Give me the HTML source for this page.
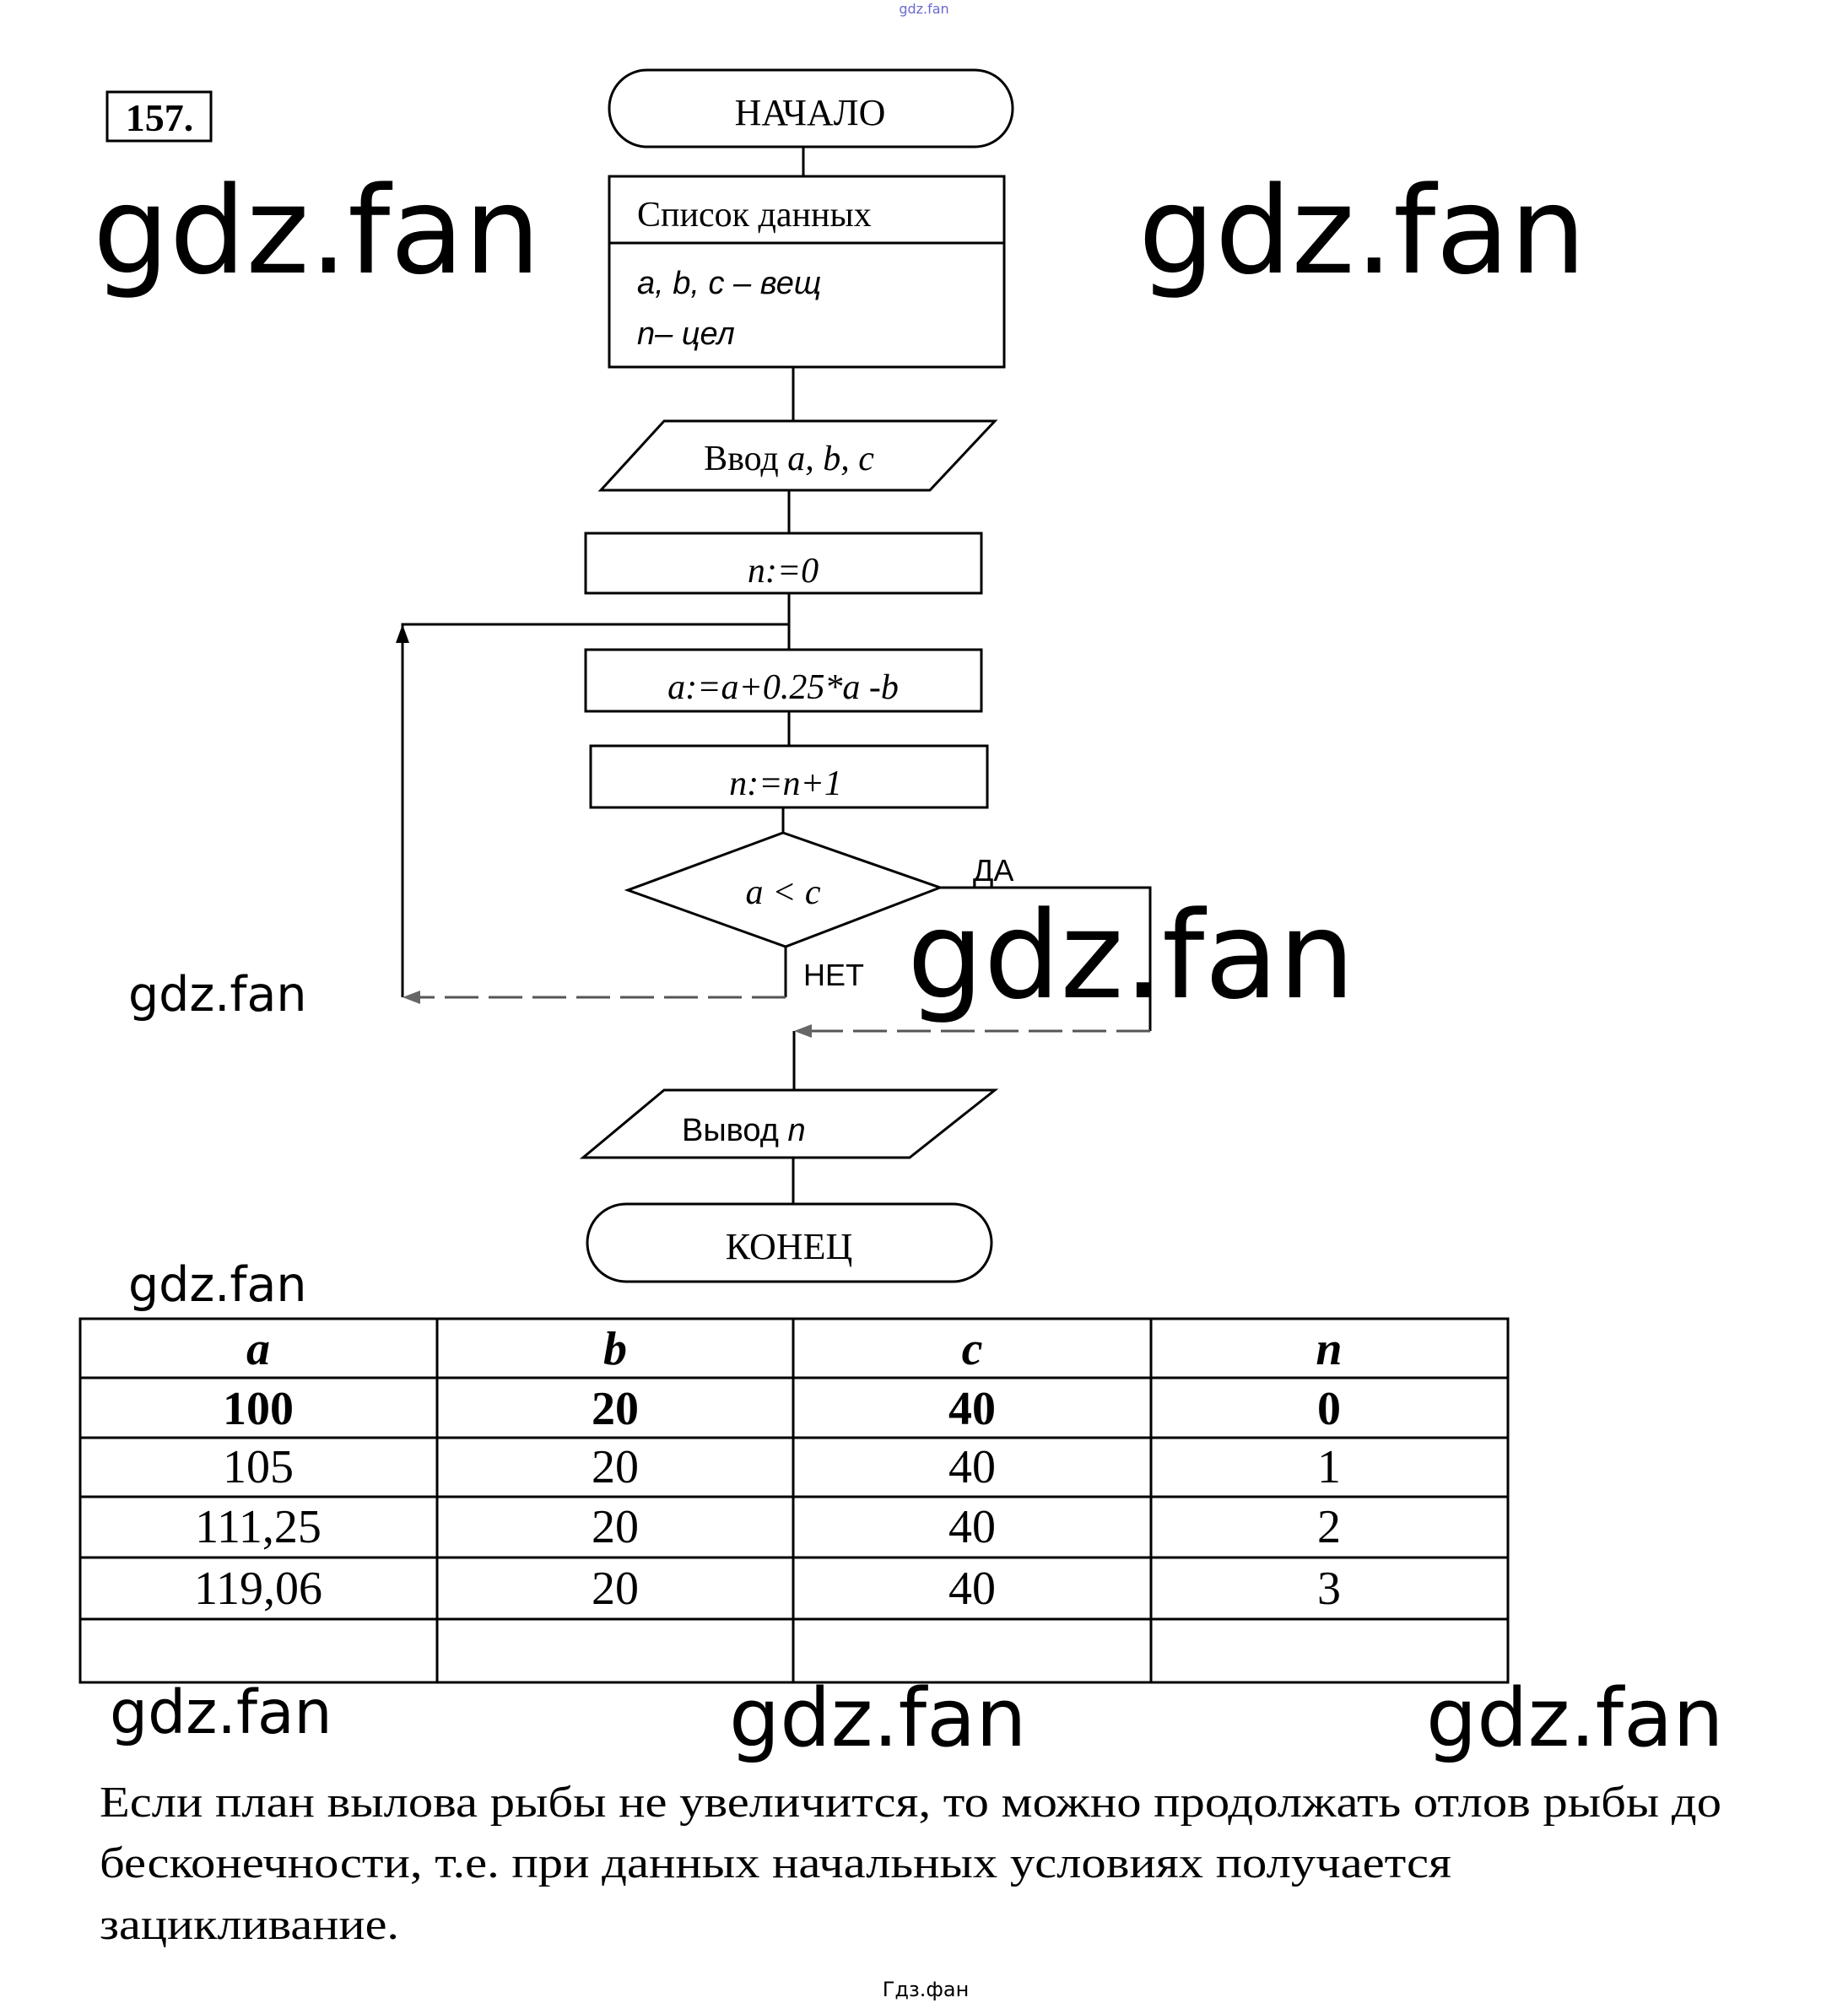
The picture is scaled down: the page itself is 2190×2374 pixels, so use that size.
<!DOCTYPE html>
<html><head><meta charset="utf-8"><style>
html,body{margin:0;padding:0;background:#fff}
svg{display:block}
.s{font-family:"Liberation Serif",serif}
.w{font-family:"DejaVu Sans","Liberation Sans",sans-serif}
</style></head><body>
<svg width="2190" height="2374" viewBox="0 0 2190 2374" xmlns="http://www.w3.org/2000/svg">
<g fill="none" stroke="#000" stroke-width="3">
<rect x="127" y="109" width="123" height="58"/>
<rect x="722" y="83" width="478" height="91" rx="45"/>
<line x1="952" y1="174" x2="952" y2="209"/>
<rect x="722" y="209" width="468" height="226"/>
<line x1="722" y1="288" x2="1190" y2="288"/>
<line x1="940" y1="435" x2="940" y2="499"/>
<polygon points="712,581 787,499 1179,499 1102,581"/>
<line x1="935" y1="581" x2="935" y2="632"/>
<rect x="694" y="632" width="469" height="71"/>
<line x1="935" y1="703" x2="935" y2="770"/>
<polyline points="935,740 477,740 477,1182"/>
<rect x="694" y="770" width="469" height="73"/>
<line x1="935" y1="843" x2="935" y2="884"/>
<rect x="700" y="884" width="470" height="73"/>
<line x1="928" y1="957" x2="928" y2="987"/>
<polygon points="928,987 1114,1052 931,1122 744,1055"/>
<polyline points="1114,1052 1363,1052 1363,1222"/>
<line x1="931" y1="1122" x2="931" y2="1182"/>
<line x1="941" y1="1222" x2="941" y2="1292"/>
<polygon points="691,1372 787,1292 1179,1292 1078,1372"/>
<line x1="940" y1="1372" x2="940" y2="1427"/>
<rect x="696" y="1427" width="479" height="92" rx="46"/>
<rect x="95" y="1563" width="1692" height="431"/>
<line x1="518" y1="1563" x2="518" y2="1994"/>
<line x1="940" y1="1563" x2="940" y2="1994"/>
<line x1="1364" y1="1563" x2="1364" y2="1994"/>
<line x1="95" y1="1633" x2="1787" y2="1633"/>
<line x1="95" y1="1704" x2="1787" y2="1704"/>
<line x1="95" y1="1774" x2="1787" y2="1774"/>
<line x1="95" y1="1846" x2="1787" y2="1846"/>
<line x1="95" y1="1919" x2="1787" y2="1919"/>
</g>
<g stroke="#555" stroke-width="3" stroke-dasharray="40,12" fill="none">
<line x1="931" y1="1182" x2="490" y2="1182"/>
<line x1="1363" y1="1222" x2="955" y2="1222"/>
</g>
<polygon points="477,740 469,762 485,762" fill="#000"/>
<polygon points="477,1182 498,1174 498,1190" fill="#666"/>
<polygon points="941,1222 962,1214 962,1230" fill="#666"/>
<g class="s" fill="#000" text-anchor="middle">
<text x="189" y="155" font-size="46" font-weight="bold">157.</text>
<text x="960" y="148" font-size="44">НАЧАЛО</text>
<text x="935" y="557" font-size="42">Ввод <tspan font-style="italic">a, b, c</tspan></text>
<text x="928" y="690" font-size="42" font-style="italic">n:=0</text>
<text x="928" y="828" font-size="42" font-style="italic">a:=a+0.25*a -b</text>
<text x="931" y="942" font-size="42" font-style="italic">n:=n+1</text>
<text x="928" y="1071" font-size="42" font-style="italic">a &lt; c</text>
<text x="935" y="1492" font-size="44">КОНЕЦ</text>
<g font-size="56" font-style="italic" font-weight="bold">
<text x="306" y="1617">a</text><text x="729" y="1617">b</text><text x="1152" y="1617">c</text><text x="1575" y="1617">n</text></g>
<g font-size="56" font-weight="bold">
<text x="306" y="1688">100</text><text x="729" y="1688">20</text><text x="1152" y="1688">40</text><text x="1575" y="1688">0</text></g>
<g font-size="56">
<text x="306" y="1757">105</text><text x="729" y="1757">20</text><text x="1152" y="1757">40</text><text x="1575" y="1757">1</text>
<text x="306" y="1828">111,25</text><text x="729" y="1828">20</text><text x="1152" y="1828">40</text><text x="1575" y="1828">2</text>
<text x="306" y="1901">119,06</text><text x="729" y="1901">20</text><text x="1152" y="1901">40</text><text x="1575" y="1901">3</text></g>
</g>
<g class="s" fill="#000">
<text x="755" y="268" font-size="42">Список данных</text>
</g>
<g font-family="'Liberation Sans',sans-serif" fill="#000">
<text x="755" y="348" font-size="38" font-style="italic">a, b, c – вещ</text>
<text x="755" y="408" font-size="38" font-style="italic">n– цел</text>
<text x="1153" y="1044" font-size="36">ДА</text>
<text x="952" y="1168" font-size="36">НЕТ</text>
<text x="808" y="1352" font-size="38">Вывод <tspan font-style="italic">n</tspan></text>
</g>
<g class="w" fill="#000">
<text x="110" y="323" font-size="143">gdz.fan</text>
<text x="1349" y="323" font-size="143">gdz.fan</text>
<text x="1075" y="1182" font-size="143">gdz.fan</text>
<text x="152" y="1198" font-size="57">gdz.fan</text>
<text x="152" y="1542" font-size="57">gdz.fan</text>
<text x="130" y="2054" font-size="71">gdz.fan</text>
<text x="864" y="2069" font-size="95">gdz.fan</text>
<text x="1690" y="2069" font-size="95">gdz.fan</text>
<text x="1097" y="2366" font-size="24" text-anchor="middle">Гдз.фан</text>
<text x="1095" y="16" font-size="16" text-anchor="middle" fill="#6a6ad0">gdz.fan</text>
</g>
<g class="s" fill="#000" font-size="52">
<text x="118" y="2153" textLength="1922" lengthAdjust="spacingAndGlyphs">Если план вылова рыбы не увеличится, то можно продолжать отлов рыбы до</text>
<text x="118" y="2225" textLength="1602" lengthAdjust="spacingAndGlyphs">бесконечности, т.е. при данных начальных условиях получается</text>
<text x="118" y="2298" textLength="355" lengthAdjust="spacingAndGlyphs">зацикливание.</text>
</g>
</svg>
</body></html>
